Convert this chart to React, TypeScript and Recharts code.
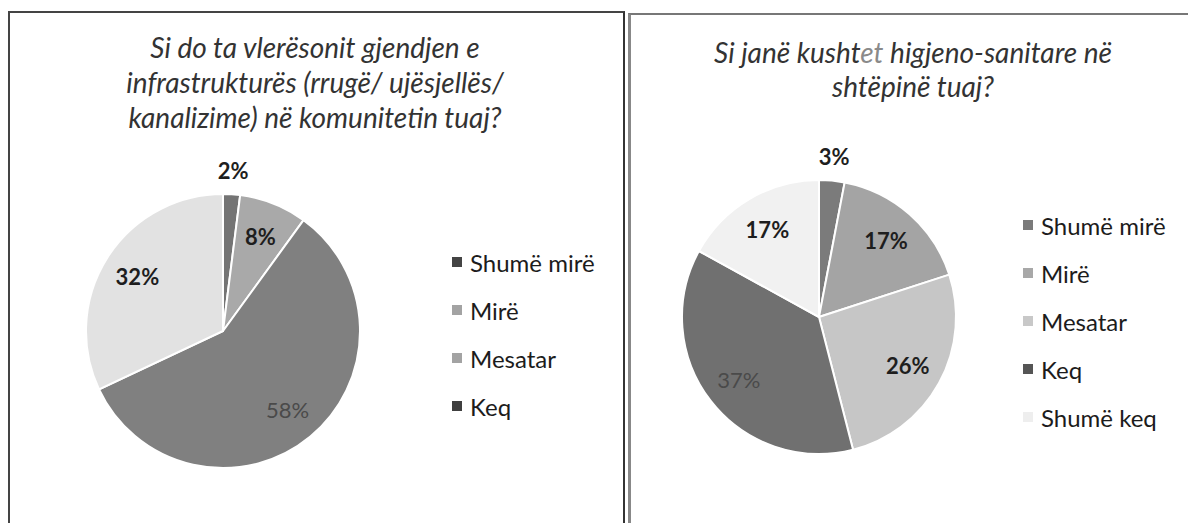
import { PieChart, Pie, Cell } from 'recharts';

// Pyetja 1: infrastruktura
const infraCategories = ['Shumë mirë', 'Mirë', 'Mesatar', 'Keq'];
const infraValues = [2, 8, 58, 32];

// Pyetja 2: kushtet higjeno-sanitare
const higjCategories = ['Shumë mirë', 'Mirë', 'Mesatar', 'Keq', 'Shumë keq'];
const higjValues = [3, 17, 26, 37, 17];

const infraSliceColors = ['#747474', '#a9a9a9', '#808080', '#e2e2e2'];
const infraLegendColors = ['#444444', '#a3a3a3', '#a3a3a3', '#3f3f3f'];
const infraLabelDark = [true, true, false, true];

const higjSliceColors = ['#7b7b7b', '#a4a4a4', '#c6c6c6', '#707070', '#f1f1f1'];
const higjLegendColors = ['#7a7a7a', '#a8a8a8', '#c8c8c8', '#555555', '#eeeeee'];
const higjLabelDark = [true, true, true, false, true];

const RADIAN = Math.PI / 180;
const FONT = 'Lato, "Open Sans", sans-serif';

function makeLabel(dark: boolean[]) {
  return (props: any) => {
    const { cx, cy, midAngle, outerRadius, percent, index, value } = props;
    // small slices get their label outside the pie
    const r = percent < 0.05 ? outerRadius + 24 : outerRadius * 0.74;
    const x = cx + r * Math.cos(-midAngle * RADIAN);
    const y = cy + r * Math.sin(-midAngle * RADIAN);
    const bold = dark[index];
    return (
      <text
        x={x}
        y={y}
        textAnchor="middle"
        dominantBaseline="central"
        fontFamily={FONT}
        fontSize={22}
        fontWeight={bold ? 700 : 400}
        fill={bold ? '#1e1e1e' : '#4a4a4a'}
      >
        {value + '%'}
      </text>
    );
  };
}

function LegendList({ names, colors, left, top }: { names: string[]; colors: string[]; left: number; top: number }) {
  return (
    <div style={{ position: 'absolute', left, top, fontFamily: FONT, fontSize: 24, color: '#1c1c1c' }}>
      {names.map((n, i) => (
        <div key={n} style={{ height: 48, display: 'flex', alignItems: 'center' }}>
          <span style={{ width: 10, height: 10, background: colors[i], marginRight: 8, display: 'inline-block' }} />
          <span>{n}</span>
        </div>
      ))}
    </div>
  );
}

export default function App() {
  const infraData = infraCategories.map((name, i) => ({ name, value: infraValues[i] }));
  const higjData = higjCategories.map((name, i) => ({ name, value: higjValues[i] }));

  const titleStyle: React.CSSProperties = {
    position: 'absolute',
    fontFamily: FONT,
    fontStyle: 'italic',
    fontSize: 28,
    color: '#333333',
    textAlign: 'center',
    whiteSpace: 'nowrap',
    transform: 'translateX(-50%)',
  };

  return (
    <div style={{ position: 'absolute', left: 0, top: 0, width: 1188, height: 523, background: '#fff', overflow: 'hidden' }}>
      {/* left panel frame */}
      <div style={{ position: 'absolute', left: 8, top: 11, width: 613, height: 530, borderTop: '2px solid #444', borderLeft: '2px solid #444', borderRight: '2px solid #333' }} />
      {/* right panel frame */}
      <div style={{ position: 'absolute', left: 628, top: 13, width: 600, height: 530, borderTop: '2px solid #777', borderLeft: '3px solid #888' }} />

      <div style={{ ...titleStyle, left: 315, top: 30, lineHeight: '35px' }}>
        Si do ta vlerësonit gjendjen e<br />
        infrastrukturës (rrugë/ ujësjellës/<br />
        kanalizime) në komunitetin tuaj?
      </div>
      <div style={{ ...titleStyle, left: 913, top: 35, lineHeight: '34px' }}>
        Si janë kusht<span style={{ color: '#8a8a8a' }}>et</span> higjeno-sanitare në<br />
        shtëpinë tuaj?
      </div>

      <div style={{ position: 'absolute', left: 0, top: 0 }}>
        <PieChart width={620} height={523} margin={{ top: 0, right: 0, bottom: 0, left: 0 }}>
          <Pie
            data={infraData}
            dataKey="value"
            nameKey="name"
            cx={223}
            cy={331}
            outerRadius={137}
            startAngle={90}
            endAngle={-270}
            stroke="#ffffff"
            strokeWidth={2}
            labelLine={false}
            label={makeLabel(infraLabelDark)}
            isAnimationActive={false}
          >
            {infraData.map((d, i) => (
              <Cell key={d.name} fill={infraSliceColors[i]} />
            ))}
          </Pie>
        </PieChart>
      </div>

      <div style={{ position: 'absolute', left: 624, top: 0 }}>
        <PieChart width={564} height={523} margin={{ top: 0, right: 0, bottom: 0, left: 0 }}>
          <Pie
            data={higjData}
            dataKey="value"
            nameKey="name"
            cx={195}
            cy={317}
            outerRadius={137}
            startAngle={90}
            endAngle={-270}
            stroke="#ffffff"
            strokeWidth={2}
            labelLine={false}
            label={makeLabel(higjLabelDark)}
            isAnimationActive={false}
          >
            {higjData.map((d, i) => (
              <Cell key={d.name + i} fill={higjSliceColors[i]} />
            ))}
          </Pie>
        </PieChart>
      </div>

      <LegendList names={infraCategories} colors={infraLegendColors} left={452} top={238} />
      <LegendList names={higjCategories} colors={higjLegendColors} left={1023} top={201} />
    </div>
  );
}
